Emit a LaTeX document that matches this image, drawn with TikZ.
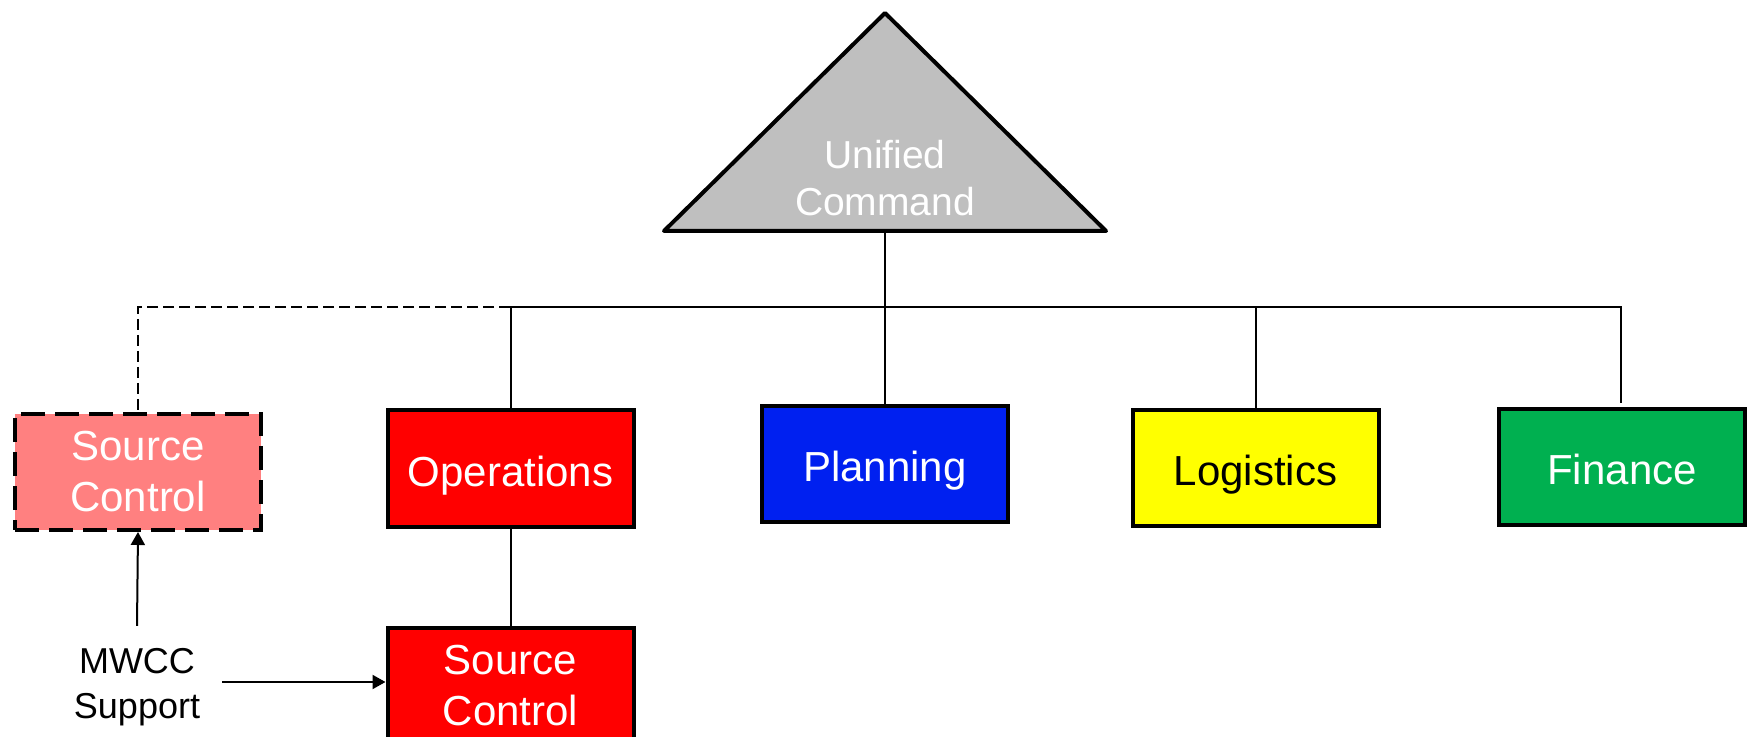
\documentclass[tikz,border=0pt]{standalone}
\usepackage{fontspec}
\setmainfont{Liberation Sans}
\usetikzlibrary{arrows.meta}
\definecolor{ucgray}{HTML}{BFBFBF}
\definecolor{pinkc}{HTML}{FF8080}
\definecolor{redc}{HTML}{FF0000}
\definecolor{bluec}{RGB}{0,32,240}
\definecolor{yellowc}{HTML}{FFFF00}
\definecolor{greenc}{HTML}{00B050}
\begin{document}
\begin{tikzpicture}[x=0.5pt,y=-0.5pt,
  box/.style={draw=black, line width=2pt, minimum width=123pt, minimum height=58pt,
    inner sep=0pt, align=center, font=\fontsize{21}{25.5}\selectfont, text=white},
  oneline/.style={box, text height=21.5pt, text depth=4pt},
  link/.style={draw=black, line width=1pt},
  arr/.style={link, -{Triangle[length=6.5pt,width=7pt]}},
]
\useasboundingbox (0,0) rectangle (1750,737);
% triangle
\coordinate (apex) at (885,13);
\coordinate (bl) at (664,231);
\coordinate (br) at (1106,231);
\coordinate (bm) at (885,231);
\filldraw[fill=ucgray, draw=black, line width=2pt, line join=round] (apex) -- (br) -- (bl) -- cycle;
\node[text=white, align=center, inner sep=0pt, font=\fontsize{19.5}{23.5}\selectfont] (uc) at (885,178) {Unified\\Command};
% boxes
\node[box, fill=pinkc, dash pattern=on 12pt off 5pt] (sc1) at (138,472) {Source\\Control};
\node[oneline, fill=redc] (ops) at (510.5,468.5) {Operations};
\node[oneline, fill=bluec] (plan) at (885,464) {Planning};
\node[oneline, fill=yellowc, text=black] (log) at (1255.5,468) {Logistics};
\node[oneline, fill=greenc] (fin) at (1622,467) {Finance};
\node[box, fill=redc] (sc2) at (510.5,686) {Source\\Control};
\node[align=center, inner sep=11pt, font=\fontsize{18}{22.5}\selectfont] (mw) at (137,687) {MWCC\\Support};
% connectors
\coordinate (busL) at (510,307);
\coordinate (busR) at (1621,307);
\coordinate (finend) at (1621,403);
\draw[link, dash pattern=on 5.5pt off 2.5pt] (busL) -| (sc1.north);
\draw[link] (busL) -- (busR) -- (finend);
\draw[link] (ops.north) -- (ops.north |- busL);
\draw[link] (bm) -- (plan.north);
\draw[link] (log.north) -- (log.north |- busL);
\draw[link] (ops.south) -- (sc2.north);
\draw[arr] (mw.north) -- (sc1.south);
\draw[arr] ([yshift=2.5pt]mw.east) -- ([yshift=2.5pt]mw.east -| sc2.west);
\end{tikzpicture}
\end{document}
